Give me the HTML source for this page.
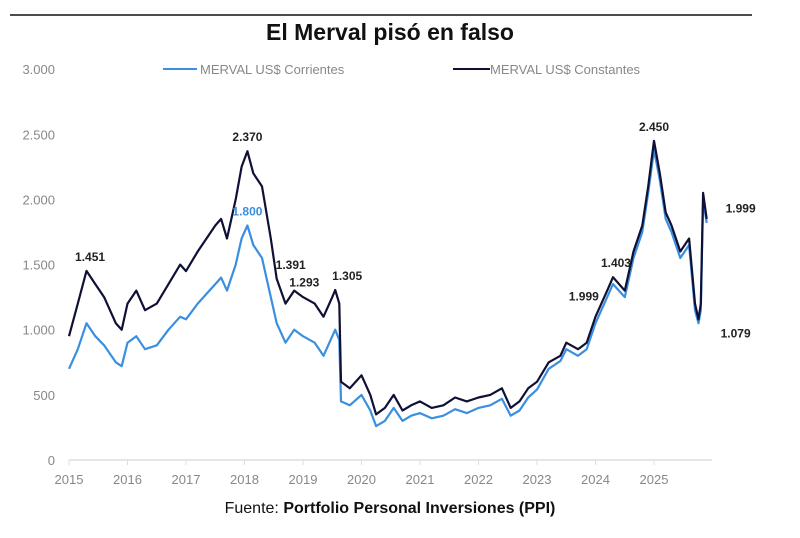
<!DOCTYPE html>
<html><head><meta charset="utf-8"><style>
body{margin:0;background:#fff;width:800px;height:533px;overflow:hidden;font-family:"Liberation Sans",sans-serif}
</style></head><body>
<svg width="800" height="533" font-family="Liberation Sans, sans-serif">
<line x1="10" y1="15" x2="752" y2="15" stroke="#111" stroke-width="1.5"/>
<text x="390" y="40" text-anchor="middle" font-size="23" font-weight="bold" fill="#111">El Merval pisó en falso</text>
<g>
<line x1="163" y1="69" x2="197" y2="69" stroke="#3a8fe0" stroke-width="2"/>
<text x="200" y="74" font-size="13" fill="#888">MERVAL US$ Corrientes</text>
<line x1="453" y1="69" x2="490" y2="69" stroke="#0f1035" stroke-width="2"/>
<text x="490" y="74" font-size="13" fill="#888">MERVAL US$ Constantes</text>
</g>
<g id="yaxis"></g>
<g id="xaxis"></g>
<g id="series"></g>
<g id="labels"></g>
<text x="390" y="513" text-anchor="middle" font-size="16" fill="#111">Fuente: <tspan font-weight="bold">Portfolio Personal Inversiones (PPI)</tspan></text>
</svg>
<script>
const dates=[2015.0,2015.15,2015.3,2015.45,2015.6,2015.8,2015.9,2016.0,2016.15,2016.3,2016.5,2016.7,2016.9,2017.0,2017.2,2017.5,2017.6,2017.7,2017.85,2017.95,2018.05,2018.15,2018.3,2018.45,2018.55,2018.7,2018.85,2019.0,2019.2,2019.35,2019.5,2019.55,2019.62,2019.65,2019.8,2020.0,2020.15,2020.25,2020.4,2020.55,2020.7,2020.85,2021.0,2021.2,2021.4,2021.6,2021.8,2022.0,2022.2,2022.4,2022.55,2022.7,2022.85,2023.0,2023.2,2023.4,2023.5,2023.7,2023.85,2024.0,2024.2,2024.3,2024.5,2024.65,2024.8,2024.9,2025.0,2025.1,2025.2,2025.3,2025.45,2025.6,2025.7,2025.76,2025.8,2025.84,2025.9];
const constantes=[950,1200,1451,1350,1250,1050,1000,1200,1300,1150,1200,1350,1500,1450,1600,1800,1850,1700,2000,2250,2370,2200,2100,1700,1391,1200,1300,1250,1200,1100,1250,1305,1200,600,550,650,500,350,400,500,380,420,450,400,420,480,450,480,500,550,400,450,550,600,750,800,900,850,900,1100,1300,1403,1300,1600,1800,2100,2450,2200,1900,1800,1600,1700,1200,1079,1200,2050,1850];
const corrientes=[700,850,1050,950,880,750,720,900,950,850,880,1000,1100,1080,1200,1350,1400,1300,1500,1700,1800,1650,1550,1250,1050,900,1000,950,900,800,950,1000,920,450,420,500,380,260,300,400,300,340,360,320,340,390,360,400,420,470,340,380,480,540,700,760,850,800,850,1050,1250,1350,1250,1550,1750,2050,2380,2150,1850,1750,1550,1650,1150,1050,1150,2000,1820];
const yTicks=[0,500,1000,1500,2000,2500,3000];
const yTickLabels=["0","500","1.000","1.500","2.000","2.500","3.000"];
const xTicks=[2015,2016,2017,2018,2019,2020,2021,2022,2023,2024,2025];
const annotDates=[2015.36,2018.05,2018.05,2018.55,2018.8,2019.55,2023.8,2024.35,2025.0,2025.78,2025.9];
const annotValues=[1451,2370,1800,1391,1293,1305,1999,1403,2450,1079,1999];
const annotTexts=["1.451","2.370","1.800","1.391","1.293","1.305","1.999","1.403","2.450","1.079","1.999"];
const annotColors=["#222","#222","#3a8fe0","#222","#222","#222","#222","#222","#222","#222","#222"];
const annotOffX=[0,0,0,14,13,12,0,0,0,36,34];
const annotOffY=[-10,-10,-10,-10,-5,-10,101,-10,-10,18,13];
const NS="http://www.w3.org/2000/svg";
const X=v=>69+(v-2015)*58.5, Y=v=>460-v*0.1303;
const ya=document.getElementById('yaxis'),xa=document.getElementById('xaxis'),se=document.getElementById('series'),lb=document.getElementById('labels');
yTicks.forEach((t,i)=>{const e=document.createElementNS(NS,'text');


e.setAttribute('x',55);e.setAttribute('y',Y(t)+5);e.setAttribute('text-anchor','end');e.setAttribute('font-size','13');e.setAttribute('fill','#888');e.textContent=yTickLabels[i];ya.appendChild(e);});
const ax=document.createElementNS(NS,'line');


ax.setAttribute('x1',69);ax.setAttribute('x2',712);ax.setAttribute('y1',460);ax.setAttribute('y2',460);ax.setAttribute('stroke','#ddd');ax.setAttribute('stroke-width','1.5');xa.appendChild(ax);
xTicks.forEach(t=>{const e=document.createElementNS(NS,'text');


e.setAttribute('x',X(t));e.setAttribute('y',484);e.setAttribute('text-anchor','middle');e.setAttribute('font-size','13');e.setAttribute('fill','#888');e.textContent=t;xa.appendChild(e);
const k=document.createElementNS(NS,'line');


k.setAttribute('x1',X(t));k.setAttribute('x2',X(t));k.setAttribute('y1',460);k.setAttribute('y2',465);k.setAttribute('stroke','#ddd');xa.appendChild(k);});
function line(vals,color,name){const p=document.createElementNS(NS,'polyline');


p.setAttribute('points',vals.map((v,i)=>X(dates[i]).toFixed(1)+','+Y(v).toFixed(1)).join(' '));p.setAttribute('fill','none');p.setAttribute('stroke',color);p.setAttribute('stroke-width','2.2');p.setAttribute('stroke-linejoin','round');se.appendChild(p);}
line(corrientes,'#3a8fe0','line-corrientes');
line(constantes,'#0f1035','line-constantes');
annotTexts.forEach((txt,i)=>{const e=document.createElementNS(NS,'text');


e.setAttribute('x',X(annotDates[i])+annotOffX[i]);e.setAttribute('y',Y(annotValues[i])+annotOffY[i]);e.setAttribute('text-anchor','middle');e.setAttribute('font-size','12');e.setAttribute('font-weight','bold');e.setAttribute('fill',annotColors[i]);e.textContent=txt;lb.appendChild(e);});
</script>
</body></html>
